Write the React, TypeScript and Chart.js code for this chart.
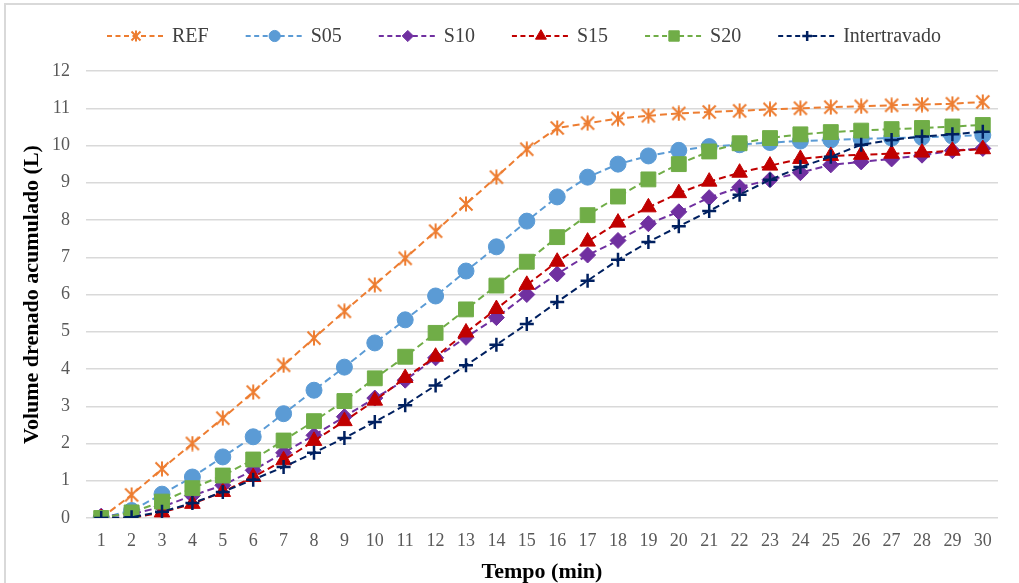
import React, { useEffect, useRef } from 'react';
import { Chart, registerables } from 'chart.js';
import { drawPoint } from 'chart.js/helpers';

Chart.register(...registerables);

const timeLabels = ['1','2','3','4','5','6','7','8','9','10','11','12','13','14','15','16','17','18','19','20','21','22','23','24','25','26','27','28','29','30'];

const refValues = [0, 0.62, 1.32, 2.0, 2.68, 3.38, 4.1, 4.83, 5.55, 6.26, 6.97, 7.7, 8.43, 9.15, 9.9, 10.47, 10.6, 10.72, 10.8, 10.86, 10.9, 10.93, 10.97, 11.0, 11.03, 11.05, 11.08, 11.1, 11.12, 11.17];
const s05Values = [0, 0.2, 0.64, 1.1, 1.64, 2.18, 2.8, 3.43, 4.05, 4.7, 5.32, 5.96, 6.63, 7.28, 7.97, 8.62, 9.15, 9.5, 9.72, 9.87, 9.97, 10.02, 10.08, 10.12, 10.15, 10.18, 10.2, 10.22, 10.25, 10.28];
const s10Values = [0.05, 0.1, 0.3, 0.6, 0.88, 1.28, 1.75, 2.22, 2.72, 3.22, 3.7, 4.3, 4.85, 5.38, 6.0, 6.55, 7.06, 7.45, 7.9, 8.22, 8.6, 8.88, 9.08, 9.27, 9.48, 9.56, 9.64, 9.74, 9.86, 9.92];
const s15Values = [0, 0, 0.15, 0.38, 0.7, 1.1, 1.55, 2.07, 2.6, 3.15, 3.76, 4.33, 4.98, 5.61, 6.26, 6.88, 7.42, 7.93, 8.34, 8.72, 9.03, 9.27, 9.46, 9.64, 9.72, 9.75, 9.78, 9.81, 9.86, 9.9];
const s20Values = [0, 0.15, 0.44, 0.8, 1.14, 1.57, 2.08, 2.6, 3.14, 3.75, 4.33, 4.97, 5.6, 6.24, 6.88, 7.54, 8.13, 8.63, 9.09, 9.5, 9.84, 10.06, 10.2, 10.3, 10.36, 10.4, 10.44, 10.47, 10.51, 10.55];
const intertravadoValues = [0, 0.02, 0.17, 0.4, 0.7, 1.03, 1.37, 1.75, 2.15, 2.58, 3.03, 3.56, 4.1, 4.65, 5.21, 5.8, 6.37, 6.93, 7.41, 7.83, 8.24, 8.68, 9.08, 9.42, 9.7, 10.02, 10.15, 10.24, 10.3, 10.37];

const seriesNames = ['REF', 'S05', 'S10', 'S15', 'S20', 'Intertravado'];
const seriesColors = ['#ED7D31', '#5B9BD5', '#7030A0', '#C00000', '#70AD47', '#002060'];

const yTicks = [0, 1, 2, 3, 4, 5, 6, 7, 8, 9, 10, 11, 12];
const xTitle = 'Tempo (min)';
const yTitle = 'Volume drenado acumulado (L)';

const SERIF = "'Liberation Serif', 'Times New Roman', serif";

function makeAsterisk(color: string, size: number, lw: number) {
  const c = document.createElement('canvas');
  c.width = size;
  c.height = size;
  const ctx = c.getContext('2d') as CanvasRenderingContext2D;
  ctx.strokeStyle = color;
  ctx.lineWidth = lw;
  const m = size / 2;
  const d = size / 2 - 1.5;
  ctx.beginPath();
  ctx.moveTo(m, 0.5);
  ctx.lineTo(m, size - 0.5);
  ctx.moveTo(m - d, m - d);
  ctx.lineTo(m + d, m + d);
  ctx.moveTo(m - d, m + d);
  ctx.lineTo(m + d, m - d);
  ctx.stroke();
  return c;
}

const framePlugin = {
  id: 'frame',
  beforeDraw(chart: any) {
    const ctx = chart.ctx;
    ctx.save();
    ctx.strokeStyle = '#d9d9d9';
    ctx.lineWidth = 2;
    ctx.beginPath();
    ctx.moveTo(5, chart.height);
    ctx.lineTo(5, 4);
    ctx.lineTo(chart.width, 4);
    ctx.stroke();
    ctx.restore();
  },
};

const legendPlugin = {
  id: 'dashLegend',
  afterDraw(chart: any) {
    const ctx = chart.ctx;
    ctx.save();
    ctx.font = `20px ${SERIF}`;
    let x = 107;
    const y = 36;
    chart.data.datasets.forEach((ds: any) => {
      ctx.strokeStyle = ds.borderColor;
      ctx.lineWidth = 2;
      ctx.setLineDash([5, 3.5]);
      ctx.beginPath();
      ctx.moveTo(x, y);
      ctx.lineTo(x + 58, y);
      ctx.stroke();
      ctx.setLineDash([]);
      ctx.fillStyle = ds.pointBackgroundColor;
      ctx.strokeStyle = ds.pointBorderColor;
      ctx.lineWidth = ds.pointBorderWidth;
      drawPoint(ctx, {
        pointStyle: ds.legendPointStyle,
        radius: ds.pointRadius * 0.7,
        rotation: 0,
        borderWidth: ds.pointBorderWidth,
      } as any, x + 29, y);
      ctx.fillStyle = '#404040';
      ctx.textBaseline = 'middle';
      ctx.textAlign = 'left';
      ctx.fillText(ds.label, x + 65, y + 1);
      x += 65 + ctx.measureText(ds.label).width + 37;
    });
    ctx.restore();
  },
};

export default function App() {
  const canvasRef = useRef<HTMLCanvasElement | null>(null);

  useEffect(() => {
    if (!canvasRef.current) return;
    const valueSets = [refValues, s05Values, s10Values, s15Values, s20Values, intertravadoValues];
    const styles: any[] = [
      makeAsterisk(seriesColors[0], 16, 2),
      'circle',
      'rectRot',
      'triangle',
      'rect',
      'cross',
    ];
    const legendStyles: any[] = [
      makeAsterisk(seriesColors[0], 12, 2),
      'circle',
      'rectRot',
      'triangle',
      'rect',
      'cross',
    ];
    const radii = [8, 8, 8, 9, 10.5, 7];
    const borderWidths = [1, 1, 1, 1, 1, 2.5];

    const datasets = seriesNames.map((name, i) => ({
      label: name,
      data: valueSets[i],
      borderColor: seriesColors[i],
      backgroundColor: seriesColors[i],
      pointBackgroundColor: seriesColors[i],
      pointBorderColor: seriesColors[i],
      pointBorderWidth: borderWidths[i],
      pointStyle: styles[i],
      legendPointStyle: legendStyles[i],
      pointRadius: radii[i],
      borderWidth: 2,
      borderDash: [7, 4],
      tension: 0,
      fill: false,
      order: seriesNames.length - i,
    }));

    const chart = new Chart(canvasRef.current, {
      type: 'line',
      data: { labels: timeLabels, datasets: datasets as any },
      options: {
        animation: false,
        responsive: true,
        maintainAspectRatio: false,
        layout: { padding: { top: 71, right: 21, bottom: 0, left: 0 } },
        plugins: {
          legend: { display: false },
          tooltip: { enabled: false },
        },
        scales: {
          x: {
            type: 'category',
            offset: true,
            grid: { display: false, drawTicks: false },
            border: { display: false },
            ticks: {
              color: '#595959',
              font: { family: SERIF, size: 18 },
              padding: 12,
              maxRotation: 0,
              autoSkip: false,
            },
            title: {
              display: true,
              text: xTitle,
              color: '#000000',
              font: { family: SERIF, size: 22, weight: 'bold', lineHeight: 1 },
              padding: { top: 0, bottom: 0 },
            },
            afterFit(scale: any) {
              scale.height = 65;
            },
          },
          y: {
            min: 0,
            max: 12,
            afterBuildTicks(scale: any) {
              scale.ticks = yTicks.map((v) => ({ value: v }));
            },
            grid: { color: '#d9d9d9', lineWidth: 1.5, drawTicks: false },
            border: { display: false },
            ticks: {
              color: '#595959',
              font: { family: SERIF, size: 18 },
              padding: 16,
            },
            title: {
              display: true,
              text: yTitle,
              color: '#000000',
              font: { family: SERIF, size: 22, weight: 'bold', lineHeight: 1 },
              padding: { top: 21, bottom: 0 },
            },
            afterFit(scale: any) {
              scale.width = 86;
            },
          },
        },
      },
      plugins: [framePlugin, legendPlugin],
    });
    return () => chart.destroy();
  }, []);

  return (
    <div style={{ position: 'fixed', left: 0, top: 0, width: 1019, height: 583, background: '#ffffff' }}>
      <canvas ref={canvasRef} />
    </div>
  );
}
